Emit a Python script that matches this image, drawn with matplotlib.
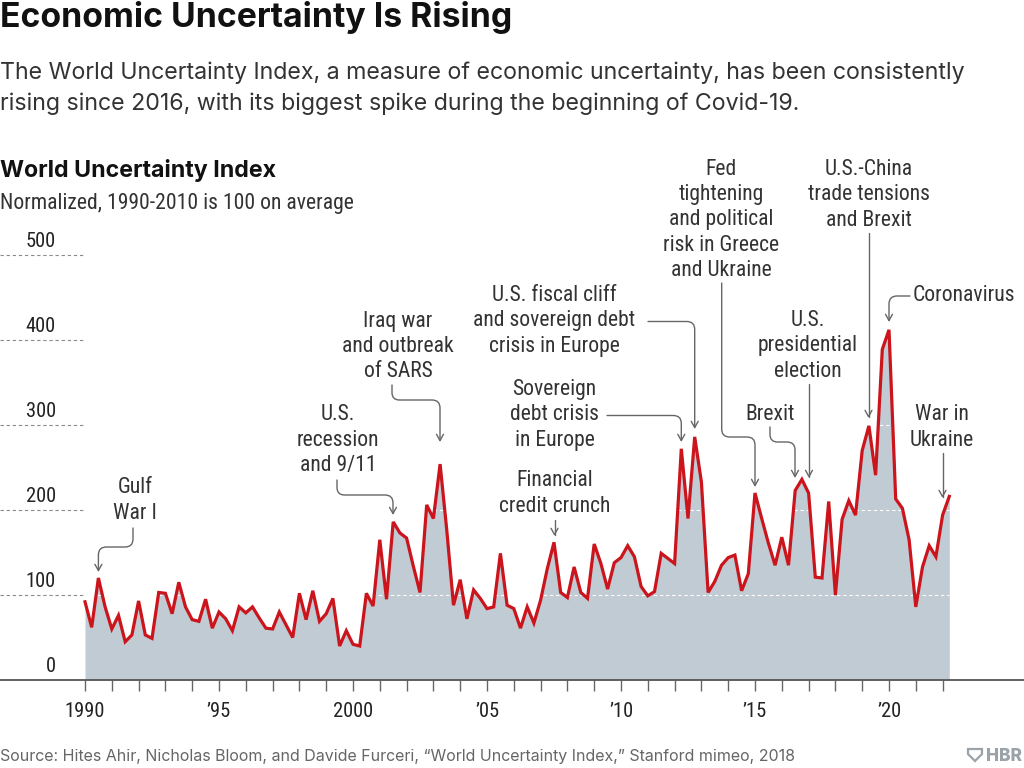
import matplotlib
matplotlib.use("Agg")
import matplotlib.pyplot as plt
import numpy as np
from matplotlib.path import Path
from matplotlib.patches import FancyArrowPatch, Polygon
from matplotlib import font_manager as fm

# ---------------- data (quarterly, 1990 Q1 - 2022 Q2) ----------------
start_year = 1990
index_values = [
    92, 62, 120, 86,      # 1990
    60, 76, 45, 53,       # 1991
    93, 53, 49, 103,      # 1992
    102, 78, 115, 86,     # 1993
    71, 69, 95, 61,       # 1994
    80, 72, 58, 86,       # 1995
    79, 86, 73, 61,       # 1996
    60, 80, 65, 50,       # 1997
    102, 71, 105, 69,     # 1998
    78, 96, 40, 58,       # 1999
    42, 40, 102, 87,      # 2000
    165, 95, 186, 173,    # 2001
    167, 134, 103, 206,   # 2002
    190, 254, 176, 88,    # 2003
    118, 72, 106, 96,     # 2004
    84, 86, 149, 88,      # 2005
    84, 61, 86, 67,       # 2006
    94, 131, 162, 103,    # 2007
    97, 133, 103, 96,     # 2008
    160, 137, 107, 138,   # 2009
    144, 158, 145, 110,   # 2010
    99, 104, 149, 143,    # 2011
    137, 272, 190, 286,   # 2012
    233, 103, 116, 135,   # 2013
    144, 147, 105, 125,   # 2014
    220, 190, 161, 135,   # 2015
    168, 135, 223, 236,   # 2016
    220, 121, 120, 210,   # 2017
    100, 189, 211, 194,   # 2018
    270, 299, 241, 389,   # 2019
    412, 213, 202, 165,   # 2020
    86, 133, 158, 145,    # 2021
    194, 216,             # 2022
]
tick_years = list(range(1990, 2023))
tick_labels = {1990: "1990", 1995: "\u201995", 2000: "2000", 2005: "\u201905",
               2010: "\u201910", 2015: "\u201915", 2020: "\u201920"}
grid_values = [100, 200, 300, 400, 500]
y_labels = [0, 100, 200, 300, 400, 500]

annotations = [
    ("Gulf\nWar I", "center", (135, 500.5), [(133, 528), (133, 547), (98.4, 547), (98.4, 572)]),
    ("U.S.\nrecession\nand 9/11", "center", (338, 440), [(337, 480), (337, 495), (393, 495), (393, 515)]),
    ("Iraq war\nand outbreak\nof SARS", "center", (398, 346.5), [(392, 385), (392, 400), (440, 400), (440, 442)]),
    ("Financial\ncredit crunch", "center", (555, 493.5), [(554.5, 520), (554.5, 536)]),
    ("Sovereign\ndebt crisis\nin Europe", "center", (554.5, 415), [(607, 415.5), (681.3, 415.5), (681.3, 442)]),
    ("U.S. fiscal cliff\nand sovereign debt\ncrisis in Europe", "center", (554, 321), [(648, 321.5), (694.7, 321.5), (694.7, 429)]),
    ("Fed\ntightening\nand political\nrisk in Greece\nand Ukraine", "center", (721, 220), [(721.7, 283), (721.7, 437), (755, 437), (755, 487)]),
    ("U.S.-China\ntrade tensions\nand Brexit", "center", (869, 195), [(868.5, 233), (868.5, 418)]),
    ("Coronavirus", "left", (913, 296), [(910, 296), (889, 296), (889, 322)]),
    ("U.S.\npresidential\nelection", "center", (808, 346), [(809, 384), (809, 478)]),
    ("Brexit", "center", (770.5, 415), [(770, 427), (770, 442), (795, 442), (795, 478)]),
    ("War in\nUkraine", "center", (942, 427.5), [(942.5, 453), (942.5, 498)]),
]

# ---------------- fonts ----------------
def _w(e):
    w = e.weight
    if isinstance(w, str):
        return {"normal": 400, "regular": 400, "book": 400, "medium": 500}.get(w.lower(), 700)
    return int(w)


def find_narrow():
    prefs = ["Roboto Condensed", "Liberation Sans Narrow", "Open Sans Condensed",
             "Noto Sans", "DejaVu Sans", "Open Sans"]
    cands = []
    for e in fm.fontManager.ttflist:
        stretch = str(e.stretch).lower()
        nm = e.name
        is_narrow = ("narrow" in nm.lower() or "condensed" in nm.lower()
                     or stretch in ("condensed", "semi-condensed", "extra-condensed")
                     or "condensed" in e.fname.lower() or "narrow" in e.fname.lower())
        if not is_narrow or e.style != "normal" or _w(e) != 400:
            continue
        if "extra" in stretch or "ultra" in stretch or "extra" in e.fname.lower():
            continue
        rank = len(prefs)
        for i, p in enumerate(prefs):
            if nm.lower().startswith(p.lower()):
                rank = i
                break
        cands.append((rank, e.fname))
    if cands:
        cands.sort()
        return fm.FontProperties(fname=cands[0][1])
    return fm.FontProperties(family=["Roboto", "DejaVu Sans"])


NARROW_FP = find_narrow()


def nfp(size):
    fp = NARROW_FP.copy()
    fp.set_size(size)
    return fp


W, H = 1024, 768
SANS = ["Inter", "DejaVu Sans"]
RED = "#cc141c"
FILL = "#c1cbd3"
TXT = "#222222"
ANN = "#333333"
ARROW = "#666666"

X0_PX, PX_PER_YEAR = 85.0, 26.8
BASE_PX, PX_PER_UNIT = 680.0, 0.85
TOP_PX = 150.0

xmin = start_year - X0_PX / PX_PER_YEAR
xmax = start_year + (W - X0_PX) / PX_PER_YEAR
ymax = (BASE_PX - TOP_PX) / PX_PER_UNIT


def to_data(px, py):
    return (start_year + (px - X0_PX) / PX_PER_YEAR, (BASE_PX - py) / PX_PER_UNIT)


fig = plt.figure(figsize=(W / 100, H / 100), dpi=100)
ax = fig.add_axes([0, (H - BASE_PX) / H, 1, (BASE_PX - TOP_PX) / H])
ax.set_xlim(xmin, xmax)
ax.set_ylim(0, ymax)
for s in ["top", "right", "left"]:
    ax.spines[s].set_visible(False)
ax.spines["bottom"].set_color("#555555")
ax.spines["bottom"].set_linewidth(1.3)
ax.set_yticks([])
ax.set_xticks(tick_years)
ax.set_xticklabels([tick_labels.get(y, "") for y in tick_years], fontproperties=nfp(14.8), color=TXT)
ax.tick_params(axis="x", length=8, width=1, color="#666666", pad=8)

dates = start_year + np.arange(len(index_values)) / 4.0
vals = np.array(index_values, dtype=float)

ax.fill_between(dates, 0, vals, color=FILL, lw=0, zorder=1)
for v in grid_values:
    ax.plot([xmin, start_year], [v, v], color="#8a8a8a", lw=0.8, ls=(0, (3, 2.5)), zorder=2, clip_on=False)
    ax.plot([start_year, dates[-1]], [v, v], color="white", lw=0.8, ls=(0, (3, 2.5)), zorder=2)
ax.plot(dates, vals, color=RED, lw=2.3, zorder=3, solid_joinstyle="miter")

lab_x = xmin + 56 / PX_PER_YEAR
for v in y_labels:
    ax.text(lab_x, v + 4 / PX_PER_UNIT, str(v), ha="right", va="bottom",
            fontproperties=nfp(14.8), color=TXT)


def rounded_path(points, r=8.0):
    pts = [np.array(p, float) for p in points]
    verts = [pts[0]]
    codes = [Path.MOVETO]
    for i in range(1, len(pts) - 1):
        a, b, c = pts[i - 1], pts[i], pts[i + 1]
        la, lc = np.linalg.norm(b - a), np.linalg.norm(c - b)
        d1, d2 = (b - a) / la, (c - b) / lc
        rr = min(r, la / 2, lc / 2)
        verts += [b - d1 * rr, b, b + d2 * rr]
        codes += [Path.LINETO, Path.CURVE3, Path.CURVE3]
    verts.append(pts[-1])
    codes.append(Path.LINETO)
    return Path([to_data(*v) for v in verts], codes)


for text, ha, (tx, ty), pts in annotations:
    x, y = to_data(tx, ty)
    ax.text(x, y, text, ha=ha, va="center", multialignment="center",
            fontproperties=nfp(15.6), color=ANN, linespacing=1.28, zorder=5)
    arr = FancyArrowPatch(path=rounded_path(pts), arrowstyle="->,head_length=0.45,head_width=0.25",
                          mutation_scale=10, color=ARROW, lw=1.0, zorder=4, clip_on=False,
                          transform=ax.transData)
    ax.add_patch(arr)

# ---------------- titles & footer ----------------
def ftext(px, py, s, **kw):
    fig.text(px / W, 1 - py / H, s, va="baseline", **kw)

ftext(0, 27, "Economic Uncertainty Is Rising", family=SANS, fontsize=24.3, weight="bold", color="#111111")
ftext(0, 79, "The World Uncertainty Index, a measure of economic uncertainty, has been consistently",
      family=SANS, fontsize=16.7, color="#333333")
ftext(0, 110, "rising since 2016, with its biggest spike during the beginning of Covid-19.",
      family=SANS, fontsize=16.7, color="#333333")
ftext(0, 177, "World Uncertainty Index", family=SANS, fontsize=16.7, weight="bold", color="#111111")
ftext(0, 209, "Normalized, 1990-2010 is 100 on average", fontproperties=nfp(15.6), color="#333333")
ftext(0, 761.5, "Source: Hites Ahir, Nicholas Bloom, and Davide Furceri, \u201cWorld Uncertainty Index,\u201d Stanford mimeo, 2018",
      family=SANS, fontsize=11.5, color="#666666")

# HBR logo
shield = [(968, 749), (982, 749), (982, 754), (975, 761), (968, 754)]
fig.patches.append(Polygon([(x / W, 1 - y / H) for x, y in shield], closed=True, fill=False,
                           edgecolor="#9aa3a9", lw=1.6, transform=fig.transFigure))
ftext(986, 761, "HBR", family=SANS, fontsize=12.5, weight="heavy", color="#9aa3a9")

fig.savefig("out.png", dpi=100)
